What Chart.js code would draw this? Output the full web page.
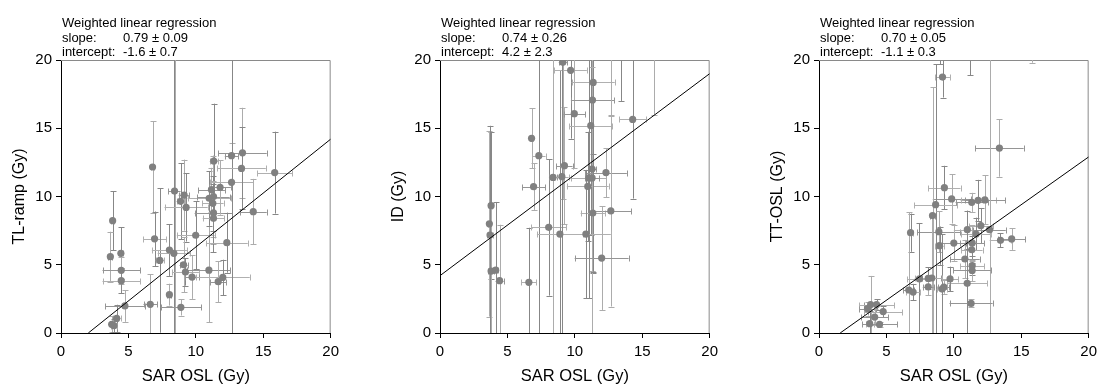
<!DOCTYPE html>
<html>
<head>
<meta charset="utf-8">
<script src="https://cdn.jsdelivr.net/npm/chart.js@4.4.1/dist/chart.umd.min.js"></script>
<style>
  body { margin: 0; background: #fff; }
  .panel { position: absolute; top: 0; }
</style>
</head>
<body>
<canvas id="c1" class="panel" width="344" height="386" style="left:0px"></canvas>
<canvas id="c2" class="panel" width="344" height="386" style="left:379px"></canvas>
<canvas id="c3" class="panel" width="344" height="386" style="left:758px"></canvas>
<script>
// eje x común
const xTitle = 'SAR OSL (Gy)';
const axisTicks = [0, 5, 10, 15, 20];

// Panel 1: TL-ramp
const tlX    = [3.83, 3.66, 4.44, 4.47, 4.47, 4.74, 4.13, 3.76, 3.93, 6.79, 6.94, 6.62, 7.33, 8.04, 8.04, 8.42, 8.37, 8.89, 8.87, 9.13, 9.28, 9.09, 9.23, 9.72, 9.99, 10.97, 10.99, 11.16, 11.33, 11.31, 11.26, 11.31, 11.31, 11.8, 12.3, 11.66, 12.0, 12.65, 12.65, 13.46, 13.39, 14.26, 15.85];
const tlXerr = [0.1, 0.15, 0.15, 1.39, 1.39, 1.47, 0.3, 0.15, 0.2, 0.1, 0.85, 0.5, 0.3, 0.15, 1.3, 0.45, 1.2, 1.5, 0.3, 0.4, 1.6, 0.3, 1.0, 0.5, 1.4, 1.6, 1.6, 1.0, 0.3, 1.2, 0.8, 1.4, 0.8, 0.8, 1.55, 0.6, 2.0, 0.5, 1.6, 1.8, 1.8, 1.0, 1.3];
const tlY    = [8.23, 5.59, 5.84, 4.59, 3.83, 1.98, 1.07, 0.64, 0.54, 12.16, 6.9, 2.1, 5.32, 2.81, 6.08, 10.4, 5.84, 1.88, 9.65, 10.1, 9.2, 5.0, 4.47, 4.1, 7.16, 4.6, 9.87, 10.5, 12.6, 10.0, 9.5, 8.8, 8.4, 10.67, 6.62, 3.76, 4.07, 12.99, 11.04, 13.2, 12.06, 8.89, 11.75];
const tlYerr = [2.16, 1.83, 1.9, 1.0, 0.9, 1.16, 1.0, 0.6, 0.5, 3.35, 2.0, 2.2, 5.3, 0.8, 1.9, 11, 15, 0.6, 2.8, 2.6, 2.5, 2.0, 1.0, 1.6, 2.5, 3.8, 2.0, 1.6, 4.2, 3.0, 2.0, 2.3, 2.5, 2.0, 2.2, 1.5, 1.3, 0.9, 13, 3.3, 3.0, 2.4, 3.0];

// Panel 2: ID
const idX    = [3.79, 3.66, 3.71, 3.79, 4.13, 4.42, 6.59, 6.79, 7.33, 6.94, 8.06, 8.38, 8.89, 9.11, 9.69, 9.23, 9.04, 9.96, 11.36, 11.31, 11.18, 11.28, 11.04, 11.28, 10.96, 12.31, 11.33, 12.67, 10.82, 11.99, 14.29, 12.65, 13.43, 15.87];
const idXerr = [0.1, 0.1, 0.2, 0.2, 0.2, 0.3, 0.55, 0.1, 0.5, 0.85, 1.3, 0.3, 1.7, 0.3, 1.2, 0.6, 0.5, 0.8, 1.6, 1.6, 1.6, 0.3, 1.3, 0.5, 1.55, 1.55, 0.9, 1.5, 1.85, 2.0, 1.0, 0.3, 0.3, 0.3];
const idY    = [9.33, 8.0, 7.18, 4.54, 4.6, 3.83, 3.71, 14.26, 12.99, 10.72, 7.74, 11.4, 7.25, 19.83, 19.24, 12.26, 11.45, 16.07, 18.36, 17.07, 15.19, 12.01, 11.36, 11.36, 10.74, 11.75, 8.79, 8.94, 7.25, 5.49, 15.65, 25, 23, 26];
const idYerr = [5.4, 6.8, 8, 5.0, 5.0, 4.1, 4.0, 2.2, 14, 1.7, 5.0, 13, 12, 10, 5, 4.3, 12, 4, 14, 12.5, 8, 7.5, 8.8, 15, 4, 1.8, 4.3, 7, 4.7, 3.8, 5.8, 9.1, 6, 10];

// Panel 3: TT-OSL
const ttX    = [9.16, 13.38, 9.3, 9.84, 8.65, 8.42, 6.79, 8.89, 8.94, 10.0, 11.0, 11.33, 11.8, 12.3, 12.0, 12.65, 11.65, 11.36, 11.33, 10.82, 11.36, 11.36, 10.99, 11.28, 13.46, 14.29, 9.72, 9.26, 9.13, 8.37, 8.1, 8.1, 7.45, 6.66, 6.98, 3.83, 4.27, 3.6, 4.76, 4.13, 3.76, 4.49, 11.23, 15.8, 9.0];
const ttXerr = [0.55, 1.8, 1.2, 1.4, 1.6, 0.2, 0.15, 1.6, 0.3, 0.9, 1.0, 1.2, 1.3, 1.5, 0.9, 1.2, 1.1, 0.9, 0.8, 1.1, 0.9, 1.4, 1.5, 1.6, 0.8, 1.0, 0.6, 0.4, 0.4, 0.7, 1.0, 0.4, 0.9, 0.4, 0.5, 0.5, 1.3, 0.6, 1.4, 1.0, 0.3, 1.3, 0.3, 0.3, 0.3];
const ttY    = [18.75, 13.55, 10.65, 9.82, 9.4, 8.6, 7.35, 7.42, 6.4, 6.59, 7.57, 9.57, 9.72, 9.75, 7.86, 7.57, 7.25, 6.6, 6.1, 5.42, 4.93, 4.58, 3.64, 2.17, 6.79, 6.89, 3.96, 3.37, 3.22, 4.03, 4.0, 3.38, 3.96, 3.15, 3.0, 2.08, 2.08, 1.78, 1.57, 1.17, 0.68, 0.63, 22.0, 21.5, 21.0];
const ttYerr = [1.5, 2.1, 1.6, 1.8, 10.3, 9.4, 1.4, 1.5, 1.4, 1.3, 1.4, 0.7, 1.5, 1.8, 1.3, 13, 1.2, 1.3, 1.0, 1.4, 0.7, 0.8, 4.0, 0.3, 0.5, 0.8, 0.9, 0.5, 4.0, 4.5, 0.8, 0.6, 4.1, 5.7, 0.6, 2.1, 0.4, 0.5, 0.4, 0.6, 0.9, 0.2, 3.1, 1.7, 1.3];

// Regresión ponderada (texto y recta)
const yTitles = ['TL-ramp (Gy)', 'ID (Gy)', 'TT-OSL (Gy)'];
const slopes = [0.79, 0.74, 0.70];
const intercepts = [-1.6, 4.2, -1.1];
const slopeTexts = ['0.79 \u00b1 0.09', '0.74 \u00b1 0.26', '0.70 \u00b1 0.05'];
const interceptTexts = ['-1.6 \u00b1 0.7', '4.2 \u00b1 2.3', '-1.1 \u00b1 0.3'];

const FONT = "'Liberation Sans', Arial, sans-serif";

// Plugin: barras de error, marco gris y texto de la regresión
const errorBarsPlugin = {
    id: 'errorBars',
    beforeDatasetsDraw(chart, args, opts) {
        const { ctx, chartArea: a, scales: { x, y } } = chart;
        ctx.save();
        // marco superior/derecho
        ctx.strokeStyle = '#8a8a8a';
        ctx.lineWidth = 1;
        ctx.beginPath();
        ctx.moveTo(a.left, a.top + 0.5);
        ctx.lineTo(a.right - 0.5, a.top + 0.5);
        ctx.lineTo(a.right - 0.5, a.bottom);
        ctx.stroke();

        ctx.beginPath();
        ctx.rect(a.left, a.top, a.right - a.left, a.bottom - a.top);
        ctx.clip();
        const cap = 3;
        opts.xs.forEach((xv, i) => {
            const px = Math.round(x.getPixelForValue(xv)) + 0.5;
            const py = Math.round(y.getPixelForValue(opts.ys[i])) + 0.5;
            const x0 = x.getPixelForValue(xv - opts.xerr[i]);
            const x1 = x.getPixelForValue(xv + opts.xerr[i]);
            const y0 = y.getPixelForValue(opts.ys[i] - opts.yerr[i]);
            const y1 = y.getPixelForValue(opts.ys[i] + opts.yerr[i]);
            ctx.strokeStyle = i % 2 ? '#acacac' : '#878787';
            ctx.beginPath();
            // vertical
            ctx.moveTo(px, y0); ctx.lineTo(px, y1);
            ctx.moveTo(px - cap, Math.round(y0) + 0.5); ctx.lineTo(px + cap, Math.round(y0) + 0.5);
            ctx.moveTo(px - cap, Math.round(y1) + 0.5); ctx.lineTo(px + cap, Math.round(y1) + 0.5);
            ctx.stroke();
            ctx.strokeStyle = i % 2 ? '#959595' : '#b0b0b0';
            ctx.beginPath();
            // horizontal
            ctx.moveTo(x0, py); ctx.lineTo(x1, py);
            ctx.moveTo(Math.round(x0) + 0.5, py - cap); ctx.lineTo(Math.round(x0) + 0.5, py + cap);
            ctx.moveTo(Math.round(x1) + 0.5, py - cap); ctx.lineTo(Math.round(x1) + 0.5, py + cap);
            ctx.stroke();
        });
        ctx.restore();
    },
    afterDraw(chart, args, opts) {
        const { ctx, chartArea: a } = chart;
        ctx.save();
        ctx.fillStyle = '#000';
        ctx.font = '13px ' + FONT;
        ctx.textBaseline = 'alphabetic';
        ctx.textAlign = 'left';
        ctx.fillText('Weighted linear regression', a.left + 1, 27);
        ctx.fillText('slope:', a.left + 1, 41.5);
        ctx.fillText(opts.slopeText, a.left + 62, 41.5);
        ctx.fillText('intercept:', a.left + 1, 56);
        ctx.fillText(opts.interceptText, a.left + 62, 56);
        ctx.restore();
    }
};

function crearPanel(id, k, xs, xerr, ys, yerr) {
    const puntos = xs.map((v, i) => ({ x: v, y: ys[i] }));
    // recta de regresión desde y=0 (o x=0) hasta x=20
    const m = slopes[k], b = intercepts[k];
    const xStart = b < 0 ? -b / m : 0;
    const recta = [{ x: xStart, y: m * xStart + b }, { x: 20, y: m * 20 + b }];

    new Chart(document.getElementById(id).getContext('2d'), {
        type: 'scatter',
        data: {
            datasets: [{
                type: 'line',
                data: recta,
                borderColor: '#000',
                borderWidth: 1,
                pointRadius: 0,
                fill: false,
                order: 0
            }, {
                data: puntos,
                backgroundColor: '#808080',
                borderWidth: 0,
                pointRadius: 3.6,
                order: 1
            }]
        },
        options: {
            responsive: false,
            animation: false,
            devicePixelRatio: 1,
            layout: { padding: { top: 60, right: 10, left: 0, bottom: 0 } },
            plugins: {
                legend: { display: false },
                tooltip: { enabled: false },
                errorBars: {
                    xs: xs, xerr: xerr, ys: ys, yerr: yerr,
                    slopeText: slopeTexts[k], interceptText: interceptTexts[k]
                }
            },
            scales: {
                x: {
                    type: 'linear', min: 0, max: 20,
                    afterFit: s => { s.height = 53; },
                    afterBuildTicks: s => { s.ticks = axisTicks.map(v => ({ value: v })); },
                    ticks: { color: '#000', padding: 5, maxRotation: 0, font: { family: FONT, size: 15 } },
                    grid: { drawOnChartArea: false, drawTicks: true, tickLength: 5, color: '#000' },
                    border: { display: true, color: '#000', width: 1 },
                    title: { display: true, text: xTitle, color: '#000', padding: { top: 0, bottom: 0 }, font: { family: FONT, size: 16.5 } }
                },
                y: {
                    type: 'linear', min: 0, max: 20,
                    afterFit: s => { s.width = 61; },
                    afterBuildTicks: s => { s.ticks = axisTicks.map(v => ({ value: v })); },
                    ticks: { color: '#000', padding: 4, font: { family: FONT, size: 15 } },
                    grid: { drawOnChartArea: false, drawTicks: true, tickLength: 5, color: '#000' },
                    border: { display: true, color: '#000', width: 1 },
                    title: { display: true, text: yTitles[k], color: '#000', padding: { top: 10, bottom: 0 }, font: { family: FONT, size: 16 } }
                }
            }
        },
        plugins: [errorBarsPlugin]
    });
}

crearPanel('c1', 0, tlX, tlXerr, tlY, tlYerr);
crearPanel('c2', 1, idX, idXerr, idY, idYerr);
crearPanel('c3', 2, ttX, ttXerr, ttY, ttYerr);
</script>
</body>
</html>
